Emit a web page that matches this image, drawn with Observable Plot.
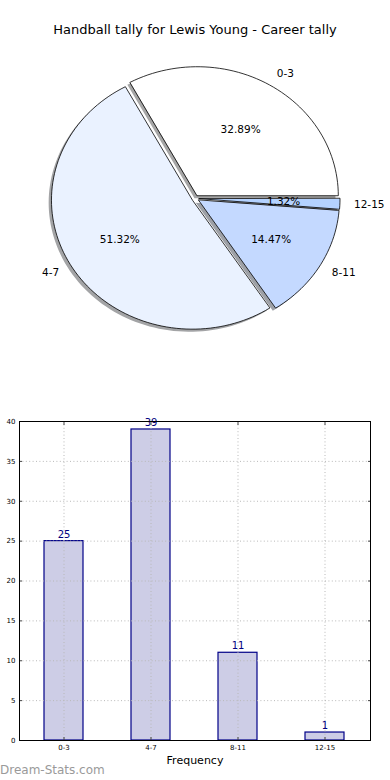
<!DOCTYPE html>
<html><head><meta charset="utf-8">
<script src="https://cdn.jsdelivr.net/npm/d3@7"></script>
<script src="https://cdn.jsdelivr.net/npm/@observablehq/plot@0.6"></script>
<style>
body{margin:0;background:#fff;font-family:"DejaVu Sans",sans-serif;}
#wrap{position:relative;width:390px;height:780px;overflow:hidden;background:#fff}
#pie{position:absolute;left:0;top:0}
#bar{position:absolute;left:0;top:400px}
#title{position:absolute;left:0;top:21px;width:390px;text-align:center;font-size:13px;line-height:18px;color:#000;z-index:2}
#credit{position:absolute;left:0;top:762px;font-size:12px;line-height:16px;color:#9a9a9a;z-index:2}
</style></head>
<body><div id="wrap"><div id="pie"></div><div id="bar"></div><div id="title"></div><div id="credit"></div></div>
<script>
const categories = ["0-3", "4-7", "8-11", "12-15"];
const counts = [25, 39, 11, 1];
const sliceColors = ["#ffffff", "#eaf2ff", "#c4d9ff", "#b4d2ff"];
const yTicks = [0, 5, 10, 15, 20, 25, 30, 35, 40];
const titleText = "Handball tally for Lewis Young - Career tally";
const xLabel = "Frequency";
const creditText = "Dream-Stats.com";

document.getElementById("title").textContent = titleText;
document.getElementById("credit").textContent = creditText;

// ---- pie (matplotlib style: start at 0°, counter-clockwise, exploded, shadowed)
const explode = 0.025, shadowOff = 0.02;
const total = d3.sum(counts);
const wedges = [];
let t1 = 0;
counts.forEach((v, i) => {
  const t2 = t1 + 360 * v / total;
  const mid = (t1 + t2) / 2 * Math.PI / 180;
  const ex = explode * Math.cos(mid), ey = explode * Math.sin(mid);
  const pts = [{x: ex, y: ey}];
  const n = Math.max(2, Math.ceil((t2 - t1) / 2));
  for (let k = 0; k <= n; k++) {
    const a = (t1 + (t2 - t1) * k / n) * Math.PI / 180;
    pts.push({x: ex + Math.cos(a), y: ey + Math.sin(a)});
  }
  wedges.push({cat: categories[i], color: sliceColors[i], pts, mid, ex, ey,
    pct: (100 * v / total).toFixed(2) + "%"});
  t1 = t2;
});
const labels = wedges.map(w => ({text: w.cat, x: w.ex + 1.1 * Math.cos(w.mid), y: w.ey + 1.1 * Math.sin(w.mid)}));
const pcts = wedges.map(w => ({text: w.pct, x: w.ex + 0.6 * Math.cos(w.mid), y: w.ey + 0.6 * Math.sin(w.mid)}));

const W = 390, H = 400, cx = 195, cy = 198, rx = 141, ry = 129;
const shadowColor = (c) => { const r = d3.rgb(c); return d3.rgb(255 - 0.5 * (255 - 0.3 * r.r), 255 - 0.5 * (255 - 0.3 * r.g), 255 - 0.5 * (255 - 0.3 * r.b)).formatHex(); };

const pie = Plot.plot({
  width: W, height: H, margin: 0,
  style: {fontFamily: "DejaVu Sans, sans-serif", background: "transparent"},
  x: {domain: [-cx / rx, (W - cx) / rx], range: [0, W], axis: null},
  y: {domain: [-(H - cy) / ry, cy / ry], range: [H, 0], axis: null},
  marks: [
    ...wedges.map(w => Plot.line(w.pts, {x: d => d.x - shadowOff, y: d => d.y - shadowOff, curve: "linear-closed", fill: shadowColor(w.color), stroke: "none"})),
    ...wedges.map(w => Plot.line(w.pts, {x: "x", y: "y", curve: "linear-closed", fill: w.color, stroke: "#000", strokeWidth: 0.8})),
    Plot.text(labels.filter(d => d.x > 0), {x: "x", y: "y", text: "text", textAnchor: "start", fontSize: 10.5, fill: "#000"}),
    Plot.text(labels.filter(d => d.x <= 0), {x: "x", y: "y", text: "text", textAnchor: "end", fontSize: 10.5, fill: "#000"}),
    Plot.text(pcts, {x: "x", y: "y", text: "text", fontSize: 10.5, fill: "#000"})
  ]
});
document.getElementById("pie").appendChild(pie);

// ---- bar chart
const barData = categories.map((c, i) => ({cat: c, value: counts[i]}));
const gridStyle = {stroke: "#b8b8b8", strokeDasharray: "1,2.4", strokeWidth: 1};
const bar = Plot.plot({
  width: 390, height: 370,
  marginTop: 21, marginBottom: 30, marginLeft: 19, marginRight: 20,
  style: {fontFamily: "DejaVu Sans, sans-serif", background: "transparent", color: "#000"},
  x: {type: "band", domain: categories, paddingInner: 0.55, paddingOuter: 0.275, align: 0.5, label: null},
  y: {domain: [0, 40], label: null},
  marks: [
    Plot.barY(barData, {x: "cat", y: "value", fill: "#cdcde6", stroke: "#000088", strokeWidth: 1.2}),
    Plot.ruleY(yTicks.filter(v => v > 0 && v < 40), gridStyle),
    Plot.ruleX(categories, {x: d => d, ...gridStyle}),
    Plot.text(barData, {x: "cat", y: "value", text: d => String(d.value), lineAnchor: "bottom", dy: -3.5, fontSize: 10, fill: "#000080"}),
    Plot.axisY(yTicks, {anchor: "left", tickSize: -3, tickPadding: 7, fontSize: 7, label: null, stroke: "#444"}),
    Plot.axisY(yTicks, {anchor: "right", tickSize: -3, tickFormat: () => "", label: null, stroke: "#444"}),
    Plot.axisX(categories, {anchor: "bottom", tickSize: -3, tickPadding: 7.5, fontSize: 7, label: null, stroke: "#444"}),
    Plot.axisX(categories, {anchor: "top", tickSize: -3, tickFormat: () => "", label: null, stroke: "#444"}),
    Plot.frame({stroke: "#000", strokeWidth: 1}),
    Plot.text([xLabel], {frameAnchor: "bottom", dy: 20, lineAnchor: "middle", fontSize: 11, fill: "#000"})
  ]
});
document.getElementById("bar").appendChild(bar);
</script>
</body></html>
